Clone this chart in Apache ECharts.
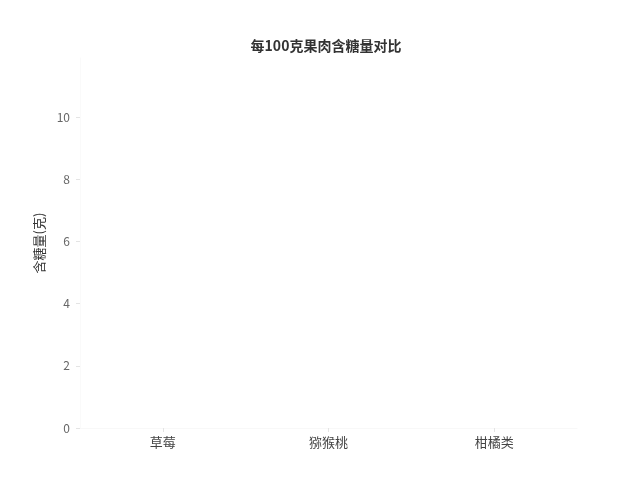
<!DOCTYPE html>
<html><head><meta charset="utf-8">
<script src="https://cdn.jsdelivr.net/npm/echarts@6/dist/echarts.min.js"></script>
<style>html,body{margin:0;padding:0;background:#fff}#c{width:640px;height:480px}</style>
</head><body><div id="c"></div>
<script>
const titleText = '每100克果肉含糖量对比';
const yAxisName = '含糖量(克)';
const categories = ['草莓', '猕猴桃', '柑橘类'];
// No bars are visible in the reference, so values are unknown/empty
const sugarValues = [null, null, null];
const yMin = 0, yMax = 11.9, yInterval = 2;

const chart = echarts.init(document.getElementById('c'), null, {renderer: 'canvas'});
chart.setOption({
  backgroundColor: '#ffffff',
  textStyle: {fontFamily: '"Noto Sans CJK SC", "Noto Sans", sans-serif'},
  title: {
    text: titleText,
    left: 321, top: 34, textAlign: 'center',
    textStyle: {fontSize: 14, fontWeight: 'bold', color: '#333', fontFamily: '"Noto Sans CJK SC", sans-serif'}
  },
  grid: {left: 80, right: 63, top: 58, bottom: 52, containLabel: false},
  xAxis: {
    type: 'category', data: categories,
    axisLine: {show: true, lineStyle: {color: '#f8f8f8', width: 1}},
    axisTick: {show: true, alignWithLabel: true, length: 4, lineStyle: {color: '#e4e4e4'}},
    axisLabel: {color: '#444', fontSize: 13, margin: 8},
    splitLine: {show: false}
  },
  yAxis: {
    type: 'value', min: yMin, max: yMax, interval: yInterval,
    name: yAxisName, nameLocation: 'middle', nameGap: 33, nameRotate: 90,
    nameTextStyle: {color: '#333', fontSize: 13},
    axisLine: {show: true, lineStyle: {color: '#fafafa'}},
    axisTick: {show: true, length: 4, lineStyle: {color: '#e4e4e4'}},
    axisLabel: {color: '#666', fontSize: 12, margin: 10, showMaxLabel: false},
    splitLine: {show: false}
  },
  series: [{
    type: 'bar', data: sugarValues, barWidth: '50%',
    itemStyle: {color: '#5470c6'}
  }]
});
</script></body></html>
